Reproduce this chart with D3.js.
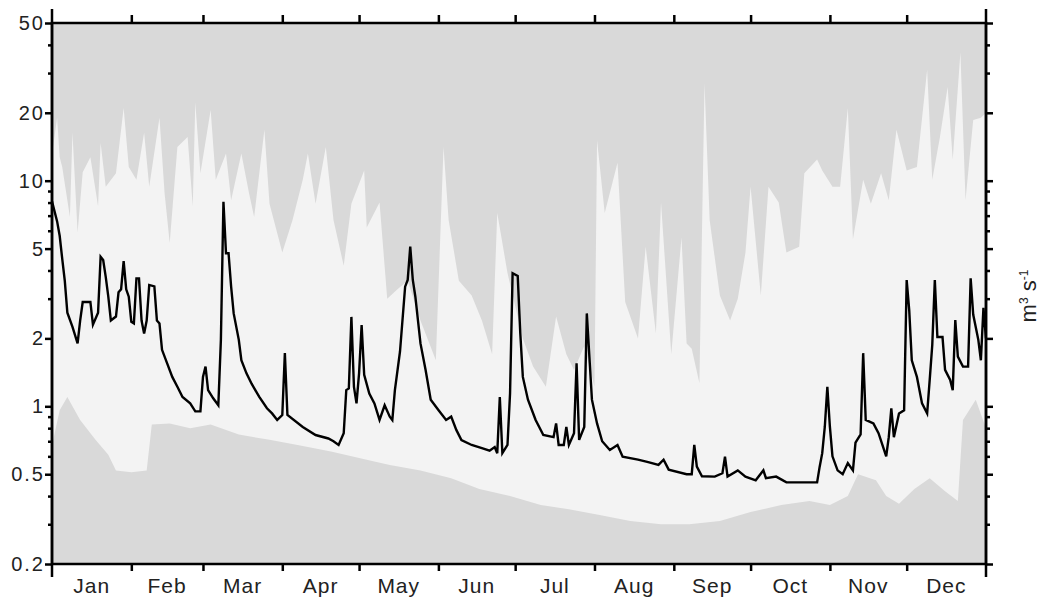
<!DOCTYPE html>
<html>
<head>
<meta charset="utf-8">
<script src="https://cdn.jsdelivr.net/npm/d3@7"></script>
<style>
  body { margin: 0; background: #fff; }
  text { font-family: "Liberation Sans", Arial, sans-serif; }
</style>
</head>
<body>
<svg id="chart"></svg>
<script>
// month labels and the day of year where each month starts
var months = ["Jan", "Feb", "Mar", "Apr", "May", "Jun", "Jul", "Aug", "Sep", "Oct", "Nov", "Dec"];
var monthStarts = [0, 31, 59, 90, 120, 151, 181, 212, 243, 273, 304, 334, 365];
var yTicks = [0.2, 0.5, 1, 2, 5, 10, 20, 50];
var yMinor = [0.3, 0.4, 0.6, 0.7, 0.8, 0.9, 3, 4, 6, 7, 8, 9, 30, 40];

// daily discharge of the year
var flowDay = [0, 2, 3, 4, 5, 6, 8, 10, 11, 12, 15, 16, 18, 19, 20, 21, 22, 23, 25, 26, 27, 28, 29, 30,
  31, 32, 33, 34, 35, 36, 37, 38, 40, 41, 42, 43, 45, 47, 49, 51, 54, 56, 58, 59, 60, 61, 63, 65,
  66, 67, 68, 69, 70, 71, 73, 74, 76, 78, 81, 84, 86, 88, 90, 91, 92, 98, 103, 108, 110, 112, 114,
  115, 116, 117, 118, 119, 120, 121, 122, 124, 126, 128, 130, 132, 133, 134, 136, 138, 139, 140,
  141, 142, 144, 146, 148, 151, 154, 156, 158, 160, 164, 168, 171, 173, 174, 175, 176, 178, 179,
  180, 182, 183, 184, 186, 189, 192, 196, 197, 198, 200, 201, 202, 204, 205, 206, 208, 209, 211,
  213, 215, 218, 221, 223, 229, 233, 237, 239, 241, 248, 250, 251, 252, 254, 259, 262, 263, 264,
  268, 271, 275, 278, 279, 283, 287, 299, 300, 301, 302, 303, 304, 305, 307, 309, 311, 313, 314,
  316, 317, 318, 321, 323, 326, 327, 328, 329, 331, 333, 334, 335, 336, 338, 340, 342, 343, 344,
  345, 346, 348, 349, 351, 352, 353, 354, 356, 358, 359, 360, 362, 363, 364, 365];
var flowValue = [8.1, 6.6, 5.7, 4.5, 3.6, 2.6, 2.25, 1.9, 2.4, 2.9, 2.9, 2.3, 2.6, 4.6, 4.45, 3.75, 3.06, 2.4, 2.5, 3.2, 3.3, 4.4, 3.3, 3.06,
  2.37, 2.33, 3.69, 3.69, 2.4, 2.1, 2.4, 3.45, 3.4, 2.4, 2.33, 1.78, 1.55, 1.35, 1.22, 1.1, 1.03, 0.95, 0.95, 1.35, 1.5, 1.18, 1.085, 1.01,
  1.97, 8.07, 4.77, 4.77, 3.39, 2.58, 1.97, 1.6, 1.4, 1.26, 1.1, 0.98, 0.93, 0.87, 0.915, 1.72, 0.915, 0.81, 0.746, 0.72, 0.7, 0.674, 0.759,
  1.18, 1.2, 2.49, 1.22, 1.03, 1.4, 2.29, 1.38, 1.14, 1.03, 0.87, 1.01, 0.9, 0.87, 1.18, 1.75, 3.39, 3.63, 5.1,
  3.63, 3.06, 1.9, 1.45, 1.07, 0.963, 0.87, 0.9, 0.786, 0.709, 0.674, 0.652, 0.636, 0.66, 0.619, 1.1, 0.62, 0.674, 1.14,
  3.89, 3.78, 2.11, 1.35, 1.07, 0.87, 0.746, 0.73, 0.84, 0.674, 0.674, 0.81, 0.674, 0.759, 1.55, 0.71, 0.81, 2.58, 1.07,
  0.84, 0.7, 0.64, 0.674, 0.598, 0.58, 0.566, 0.55, 0.58, 0.524, 0.5, 0.5, 0.674, 0.54, 0.49, 0.488, 0.505, 0.598, 0.488,
  0.52, 0.488, 0.47, 0.52, 0.48, 0.488, 0.46, 0.46, 0.54, 0.62, 0.81, 1.22, 0.81, 0.6, 0.52, 0.5, 0.56, 0.52, 0.69,
  0.75, 1.72, 0.87, 0.84, 0.76, 0.6, 0.73, 0.98, 0.73, 0.93, 0.96, 3.63, 2.66, 1.6, 1.35, 1.03, 0.93, 1.31, 1.87,
  3.63, 2.03, 2.03, 1.45, 1.31, 1.18, 2.41, 1.66, 1.5, 1.5, 3.69, 2.55, 1.97, 1.6, 2.73, 2.0];

// upper edge of the light band (high envelope)
var upperDay = [0, 2, 3, 4, 7, 8, 10, 12, 15, 18, 19, 21, 25, 28, 30, 33, 36, 38, 42, 44, 46, 49, 53, 55,
  56, 58, 62, 64, 68, 70, 74, 77, 79, 83, 85, 90, 94, 98, 100, 103, 107, 110, 114, 117, 122, 123, 128,
  131, 135, 139, 144, 150, 153, 155, 159, 164, 168, 172, 174, 178, 184, 188, 193, 197, 201, 204, 208,
  212, 213, 216, 221, 224, 229, 232, 236, 238, 242, 246, 248, 250, 253, 255, 257, 261, 265, 268, 271,
  273, 277, 280, 284, 287, 292, 294, 299, 301, 305, 308, 311, 313, 317, 320, 324, 327, 330, 334, 338,
  342, 344, 347, 350, 352, 355, 357, 360, 363, 365];
var upperValue = [13, 19, 12.7, 11.5, 6.9, 16.3, 5.9, 10.9, 12.7, 7.7, 14.7, 9.4, 10.8, 21, 11.5, 10.1, 16.3, 9.4, 19, 8.8, 5.3, 14.1, 15.6, 7.7,
  22.2, 10.8, 20.6, 10.1, 13.2, 8.2, 13.2, 8.8, 6.9, 16.8, 7.9, 4.8, 6.7, 10.1, 13.2, 7.9, 14.1, 6.7, 4.2, 7.9, 11.1, 6.2, 8.0,
  3.0, 3.3, 3.6, 2.4, 1.6, 14.1, 6.7, 3.6, 3.1, 2.4, 1.7, 7.2, 3.9, 2.0, 1.5, 1.22, 2.5, 1.7, 1.45, 1.85,
  1.22, 15.1, 7.2, 12.0, 2.9, 2.0, 5.1, 2.1, 8.0, 1.7, 5.6, 1.9, 1.8, 1.27, 27, 6.7, 3.1, 2.4, 3.0, 4.8,
  9.4, 3.1, 9.4, 8.0, 4.8, 5.1, 10.8, 12.4, 11.1, 9.4, 9.4, 21, 5.5, 10.1, 7.9, 10.8, 8.2, 16.8, 11.1, 11.5,
  31, 10.1, 15.6, 26, 12.4, 37, 8.2, 18.6, 19, 20];

// lower edge of the light band (low envelope)
var lowerDay = [0, 3, 6, 11, 17, 22, 25, 31, 37, 39, 46, 54, 62, 73, 85, 97, 109, 120, 132, 144, 156, 167,
  179, 191, 202, 214, 226, 238, 249, 261, 273, 285, 296, 304, 311, 315, 322, 326, 331, 337, 343, 349, 354,
  356, 361, 365];
var lowerValue = [0.67, 0.96, 1.1, 0.87, 0.71, 0.61, 0.52, 0.51, 0.52, 0.83, 0.84, 0.8, 0.83, 0.75, 0.71, 0.67, 0.63, 0.59, 0.55, 0.52, 0.48, 0.43,
  0.4, 0.365, 0.35, 0.33, 0.31, 0.3, 0.3, 0.31, 0.34, 0.365, 0.38, 0.365, 0.4, 0.5, 0.47, 0.4, 0.37, 0.43, 0.48, 0.42, 0.38,
  0.87, 1.07, 0.8];

var width = 1040, height = 601;
var plotLeft = 52, plotRight = 986, plotTop = 23, plotBottom = 564;

var svg = d3.select("#chart")
  .attr("width", width)
  .attr("height", height);

var x = d3.scaleLinear().domain([0, 365]).range([plotLeft, plotRight]);
var y = d3.scaleLog().domain([0.2, 50]).range([plotBottom, plotTop]);

var upper = upperDay.map(function (d, i) { return [d, upperValue[i]]; });
var lower = lowerDay.map(function (d, i) { return [d, lowerValue[i]]; });
var flow = flowDay.map(function (d, i) { return [d, flowValue[i]]; });

svg.append("clipPath").attr("id", "plotclip")
  .append("rect")
  .attr("x", plotLeft).attr("y", plotTop)
  .attr("width", plotRight - plotLeft).attr("height", plotBottom - plotTop);

var plot = svg.append("g").attr("clip-path", "url(#plotclip)");

// light band between the envelopes
plot.append("rect")
  .attr("x", plotLeft).attr("y", plotTop)
  .attr("width", plotRight - plotLeft).attr("height", plotBottom - plotTop)
  .attr("fill", "#f3f3f3");

plot.append("path")
  .datum(upper)
  .attr("fill", "#d9d9d9")
  .attr("d", d3.area()
    .x(function (d) { return x(d[0]); })
    .y0(y(50))
    .y1(function (d) { return y(d[1]); }));

plot.append("path")
  .datum(lower)
  .attr("fill", "#d9d9d9")
  .attr("d", d3.area()
    .x(function (d) { return x(d[0]); })
    .y0(y(0.2))
    .y1(function (d) { return y(d[1]); }));

plot.append("path")
  .datum(flow)
  .attr("fill", "none")
  .attr("stroke", "#000")
  .attr("stroke-width", 2.4)
  .attr("d", d3.line()
    .x(function (d) { return x(d[0]); })
    .y(function (d) { return y(d[1]); }));

// axes
function styleAxis(g) {
  g.select(".domain").remove();
  g.selectAll(".tick line").attr("stroke", "#000").attr("stroke-width", 2.5);
  g.selectAll(".tick text")
    .attr("fill", "#222")
    .style("font-size", "20px")
    .style("letter-spacing", "2px");
}

svg.append("g")
  .attr("transform", "translate(" + plotLeft + ",0)")
  .call(d3.axisLeft(y).tickValues(yTicks).tickSize(7).tickPadding(0).tickFormat(d3.format("")))
  .call(styleAxis);
svg.append("g")
  .attr("transform", "translate(" + plotLeft + ",0)")
  .call(d3.axisLeft(y).tickValues(yMinor).tickSize(4).tickFormat(""))
  .call(styleAxis);
svg.append("g")
  .attr("transform", "translate(" + plotRight + ",0)")
  .call(d3.axisRight(y).tickValues(yTicks).tickSize(7).tickFormat(""))
  .call(styleAxis);
svg.append("g")
  .attr("transform", "translate(" + plotRight + ",0)")
  .call(d3.axisRight(y).tickValues(yMinor).tickSize(4).tickFormat(""))
  .call(styleAxis);
svg.append("g")
  .attr("transform", "translate(0," + plotTop + ")")
  .call(d3.axisTop(x).tickValues(monthStarts.slice(1, -1)).tickSize(8).tickFormat(""))
  .call(styleAxis);
svg.append("g")
  .attr("transform", "translate(0," + plotBottom + ")")
  .call(d3.axisBottom(x).tickValues(monthStarts.slice(1, -1)).tickSize(7).tickFormat(""))
  .call(styleAxis);

// frame, with the year ends drawn long
svg.append("rect")
  .attr("x", plotLeft).attr("y", plotTop)
  .attr("width", plotRight - plotLeft).attr("height", plotBottom - plotTop)
  .attr("fill", "none").attr("stroke", "#000").attr("stroke-width", 2.5);
[0, 365].forEach(function (d) {
  svg.append("line")
    .attr("x1", x(d)).attr("x2", x(d))
    .attr("y1", plotTop - 14).attr("y2", plotBottom + 13)
    .attr("stroke", "#000").attr("stroke-width", 2.5);
});

// month names centred in each month
svg.append("g").selectAll("text")
  .data(months)
  .enter()
  .append("text")
  .attr("x", function (d, i) { return x((monthStarts[i] + monthStarts[i + 1]) / 2); })
  .attr("y", 593)
  .attr("text-anchor", "middle")
  .attr("fill", "#222")
  .style("font-size", "21px")
  .style("letter-spacing", "1px")
  .text(function (d) { return d; });

// unit label on the right
var unit = svg.append("text")
  .attr("transform", "translate(1036,296) rotate(-90)")
  .attr("text-anchor", "middle")
  .attr("fill", "#222")
  .style("font-size", "22px");
unit.append("tspan").text("m");
unit.append("tspan").attr("dy", -8).style("font-size", "12px").text("3");
unit.append("tspan").attr("dy", 8).text(" s");
unit.append("tspan").attr("dy", -8).style("font-size", "12px").text("-1");
</script>
</body>
</html>
